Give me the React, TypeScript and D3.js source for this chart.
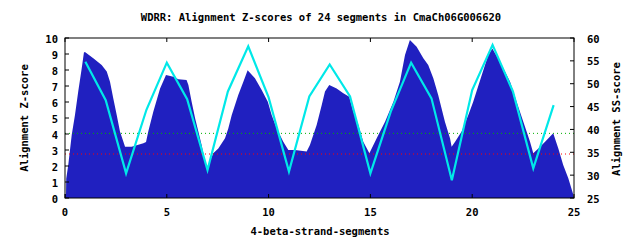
import React from "react";
import * as d3 from "d3";

const title = "WDRR: Alignment Z-scores of 24 segments in CmaCh06G006620";
const xTicks = [0, 5, 10, 15, 20, 25];
const zTicks = [0, 1, 2, 3, 4, 5, 6, 7, 8, 9, 10];
const ssTicks = [25, 30, 35, 40, 45, 50, 55, 60];

// Z-score profile (filled area): x positions and z values
const zProfileX = [0, 0.05, 0.06, 0.16, 0.33, 0.49, 0.65, 0.82, 0.93, 0.98, 1.39, 1.8, 2.05, 2.21, 2.37, 2.54, 2.7, 2.95, 3.27, 3.85, 3.98, 4.09, 4.34, 4.67, 4.96, 5.32, 5.57, 5.97, 6.06, 6.22, 6.39, 6.55, 6.71, 6.88, 7.0, 7.28, 7.53, 7.86, 8.02, 8.19, 8.51, 8.76, 8.97, 9.33, 9.66, 9.96, 10.15, 10.4, 10.72, 10.97, 11.3, 11.87, 12.03, 12.36, 12.61, 12.77, 12.98, 13.34, 13.67, 13.96, 14.16, 14.41, 14.65, 14.95, 15.31, 15.72, 16.13, 16.45, 16.7, 16.94, 17.27, 17.6, 17.84, 18.09, 18.33, 18.66, 18.91, 18.99, 19.16, 19.48, 19.81, 20.05, 20.47, 20.79, 20.99, 21.45, 21.86, 22.18, 22.51, 22.84, 23.0, 23.25, 23.58, 23.98, 24.23, 24.47, 24.72, 24.96, 25];
const zProfileY = [0.25, 0.25, 1.2, 2.06, 3.94, 5.19, 6.65, 8.1, 9.1, 9.13, 8.73, 8.31, 7.9, 7.27, 6.23, 5.19, 4.15, 3.2, 3.2, 3.42, 3.5, 4.15, 5.4, 6.85, 7.69, 7.58, 7.42, 7.38, 7.06, 6.02, 4.98, 4.15, 3.31, 2.27, 1.96, 2.79, 3.1, 3.73, 4.35, 5.19, 6.44, 7.27, 7.98, 7.48, 6.75, 6.02, 5.19, 4.35, 3.52, 3.0, 3.0, 2.9, 3.31, 4.56, 5.81, 6.65, 7.06, 6.85, 6.54, 6.33, 5.4, 4.56, 3.52, 2.79, 3.73, 4.77, 6.02, 7.27, 8.94, 9.88, 9.46, 8.73, 8.31, 7.48, 6.44, 4.77, 3.73, 3.2, 3.52, 4.15, 5.19, 6.02, 7.69, 8.94, 9.35, 8.31, 7.27, 6.02, 4.77, 3.52, 2.79, 3.1, 3.52, 4.04, 3.1, 2.06, 1.23, 0.23, 0];

// SS-score per segment (cyan line, right axis)
const segments = [1, 2, 3, 4, 5, 6, 7, 8, 9, 10, 11, 12, 13, 14, 15, 16, 17, 18, 19, 20, 21, 22, 23, 24];
const ssScores = [54.8, 46.4, 30.4, 44.3, 54.6, 46.6, 31.1, 48.3, 58.2, 47, 30.8, 47.2, 54.2, 47.2, 30.4, 43.9, 54.6, 46.8, 28.9, 48.6, 58.5, 48.3, 31.5, 45.3];

// threshold lines (Z-score)
const thresholdGreen = 4.04;
const thresholdRed = 2.75;

const W = 640, H = 240;
const L = 65, R = 574, T = 38, B = 198;
const FONT = "'DejaVu Sans Mono', 'Liberation Mono', monospace";

export default function App() {
  const x = d3.scaleLinear().domain([0, 25]).range([L, R]);
  const yz = d3.scaleLinear().domain([0, 10]).range([B, T]);
  const ys = d3.scaleLinear().domain([25, 60]).range([B, T]);

  const prof = zProfileX.map((v, i) => [v, zProfileY[i]] as [number, number]);
  const areaPath = d3.area<[number, number]>()
    .x(d => x(d[0])).y0(yz(0)).y1(d => yz(d[1]))(prof) || "";
  const linePath = d3.line<number>()
    .x((_, i) => x(segments[i])).y(d => ys(d))(ssScores) || "";

  const tl = 4;
  const fs = 10.5;
  return (
    <svg width={W} height={H} style={{ position: "absolute", left: 0, top: 0, background: "#fff" }}
      fontFamily={FONT} fontSize={fs} fontWeight="bold">
      <rect x={0} y={0} width={W} height={H} fill="#fff" />
      <text x={321} y={21} textAnchor="middle">{title}</text>
      <path d={areaPath} fill="#2020c0" />
      <line x1={L} x2={R} y1={yz(thresholdGreen)} y2={yz(thresholdGreen)} stroke="#00b000" strokeWidth={1} strokeDasharray="1,3" />
      <line x1={L} x2={R} y1={yz(thresholdRed)} y2={yz(thresholdRed)} stroke="#ff0000" strokeWidth={1} strokeDasharray="1,3" />
      <path d={linePath} fill="none" stroke="#00e8e8" strokeWidth={2.2} />
      {zTicks.map(t => (
        <g key={"z" + t}>
          <line x1={L} x2={L + tl} y1={yz(t)} y2={yz(t)} stroke="#000" />
          <text x={58} y={yz(t) + 4.5} textAnchor="end">{t}</text>
        </g>
      ))}
      {ssTicks.map(t => (
        <g key={"s" + t}>
          <line x1={R} x2={R - tl} y1={ys(t)} y2={ys(t)} stroke="#000" />
          <text x={587} y={ys(t) + 4.5} textAnchor="start">{t}</text>
        </g>
      ))}
      {xTicks.map(t => (
        <g key={"x" + t}>
          <line x1={x(t)} x2={x(t)} y1={B} y2={B - tl} stroke="#000" />
          <line x1={x(t)} x2={x(t)} y1={T} y2={T + tl} stroke="#000" />
          <text x={x(t)} y={216} textAnchor="middle">{t}</text>
        </g>
      ))}
      <rect x={L} y={T} width={R - L} height={B - T} fill="none" stroke="#000" strokeWidth={1} />
      <text x={320} y={235} textAnchor="middle">4-beta-strand-segments</text>
      <text transform={`translate(28,118) rotate(-90)`} textAnchor="middle">Alignment Z-score</text>
      <text transform={`translate(620,119) rotate(-90)`} textAnchor="middle">Alignment SS-score</text>
    </svg>
  );
}
